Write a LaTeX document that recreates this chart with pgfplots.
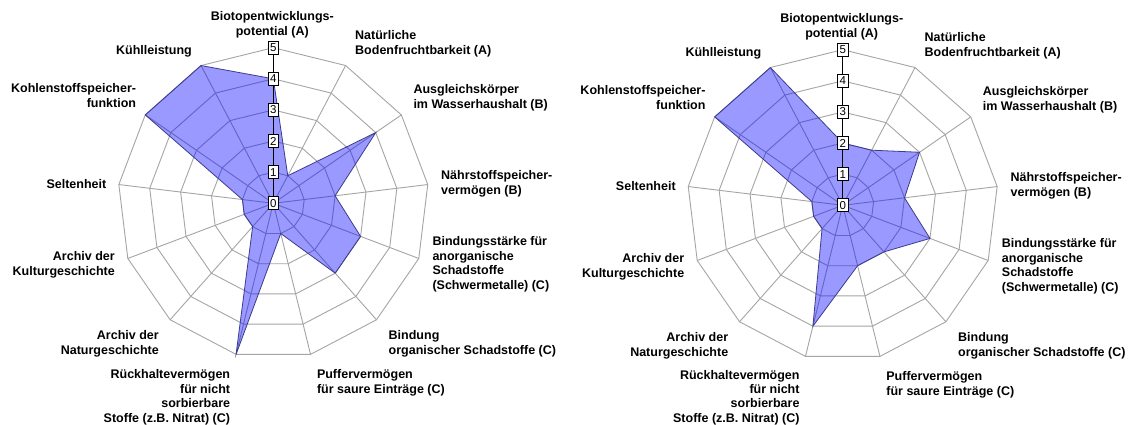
\documentclass[border=0pt]{standalone}
\usepackage{fontspec}
\setmainfont{Liberation Sans}
\usepackage{pgfplots}
\pgfplotsset{compat=1.18}

\definecolor{gridgray}{RGB}{165,165,165}
\definecolor{fillblue}{RGB}{0,0,255}
\definecolor{edgeblue}{RGB}{60,60,140}

\tikzset{lab/.style={font=\bfseries\fontsize{12.5}{14.4}\selectfont, inner sep=0pt, text=black}}

\newcommand\radargrid{%
  \foreach \r in {1,...,5}{%
    \draw[gridgray, line width=0.9pt, line join=miter] (90:{\r*31.12pt}) \foreach \k in {1,...,12}{ -- ({90-\k*360/13}:{\r*31.12pt})} -- cycle;
  }%
  \foreach \k in {1,...,12}{\draw[gridgray, line width=0.9pt] (0,0) -- ({90-\k*360/13}:155.6pt);}%
}

\newcommand\radaraxis{%
  \draw[black, line width=1pt] (0,0) -- (0,155.6pt);
  \foreach \v in {0,...,5}{\node[draw=black, fill=white, inner sep=0pt, minimum width=10.5pt, minimum height=13pt, line width=0.8pt, font=\fontsize{11.5}{11.5}\selectfont] at (0,{\v*31.12pt}) {\v};}%
}

% #1 = vertical position of the top of the bottom-left label
\newcommand\radarlabels[1]{%
  \node[lab, anchor=north, align=center] at (-1pt,191.6pt) {Biotopentwicklungs-\\potential (A)};
  \node[lab, anchor=north west, align=left] at (81.7pt,172.6pt) {Natürliche\\Bodenfruchtbarkeit (A)};
  \node[lab, anchor=north west, align=left] at (140pt,118.6pt) {Ausgleichskörper\\im Wasserhaushalt (B)};
  \node[lab, anchor=north west, align=left] at (167.7pt,32.6pt) {Nährstoffspeicher-\\vermögen (B)};
  \node[lab, anchor=north west, align=left] at (159pt,-33.4pt) {Bindungsstärke für\\anorganische\\Schadstoffe\\(Schwermetalle) (C)};
  \node[lab, anchor=north west, align=left] at (115.2pt,-127.4pt) {Bindung\\organischer Schadstoffe (C)};
  \node[lab, anchor=north west, align=left] at (43.5pt,-166.4pt) {Puffervermögen\\für saure Einträge (C)};
  \node[lab, anchor=north east, align=right] at (-43pt,#1) {Rückhaltevermögen\\für nicht\\sorbierbare\\Stoffe (z.B. Nitrat) (C)};
  \node[lab, anchor=north east, align=right] at (-114.3pt,-127.4pt) {Archiv der\\Naturgeschichte};
  \node[lab, anchor=north east, align=right] at (-158.3pt,-48.4pt) {Archiv der\\Kulturgeschichte};
  \node[lab, anchor=north east, align=right] at (-166.8pt,23.6pt) {Seltenheit};
  \node[lab, anchor=north east, align=right] at (-137pt,119.6pt) {Kohlenstoffspeicher-\\funktion};
  \node[lab, anchor=north east, align=right] at (-81.3pt,157.6pt) {Kühlleistung};
}

\pgfplotsset{radar/.style={anchor=center, scale only axis, width=311.2pt, height=311.2pt,
  xmin=-5, xmax=5, ymin=-5, ymax=5, hide axis, clip=false}}

\begin{document}
\begin{tikzpicture}
\fill[white] (0,0) rectangle (1132pt,-425pt);
\useasboundingbox (0,0) rectangle (1132pt,-425pt);

% ---------- left chart ----------
\begin{scope}[shift={(273.3pt,-203.3pt)}]
  \radargrid
\end{scope}
\begin{axis}[radar, at={(273.3pt,-203.3pt)}]
\addplot[fill=fillblue, fill opacity=0.4, draw=edgeblue, line width=0.8pt, mark=none, data cs=polar]
 coordinates {(90,4) (62.3077,1) (34.6154,4) (6.9231,2) (-20.7692,3) (-48.4615,3) (-76.1538,1)
 (-103.8462,5) (-131.5385,1) (-159.2308,1) (173.0769,1) (145.3846,5) (117.6923,5)} -- cycle;
\end{axis}
\begin{scope}[shift={(273.3pt,-203.3pt)}]
  \radaraxis
  \radarlabels{-166.4pt}
\end{scope}

% ---------- right chart ----------
\begin{scope}[shift={(842.7pt,-205.3pt)}]
  \radargrid
\end{scope}
\begin{axis}[radar, at={(842.7pt,-205.3pt)}]
\addplot[fill=fillblue, fill opacity=0.4, draw=edgeblue, line width=0.8pt, mark=none, data cs=polar]
 coordinates {(90,2) (62.3077,2) (34.6154,3) (6.9231,2) (-20.7692,3) (-48.4615,2) (-76.1538,2)
 (-103.8462,4) (-131.5385,1) (-159.2308,1) (173.0769,1) (145.3846,5) (117.6923,5)} -- cycle;
\end{axis}
\begin{scope}[shift={(842.7pt,-205.3pt)}]
  \radaraxis
  \radarlabels{-164.6pt}
\end{scope}
\end{tikzpicture}
\end{document}
